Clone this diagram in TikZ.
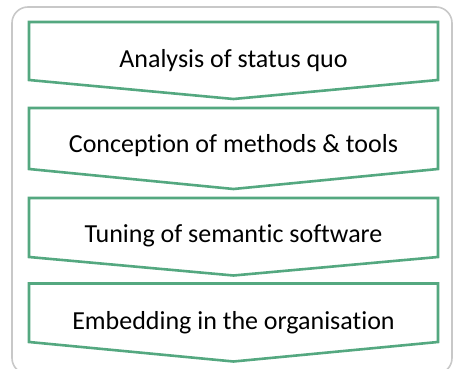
\documentclass[tikz,border=0pt]{standalone}
\usepackage{fontspec}
\setmainfont{Carlito}[Ligatures=NoCommon]
\definecolor{chevgreen}{RGB}{84,168,128}
\definecolor{framegray}{RGB}{200,200,200}
\begin{document}
\begin{tikzpicture}[x=1pt,y=-1pt,
  chev/.style={draw=chevgreen,line width=2.6pt,fill=white,line join=miter},
  lbl/.style={font=\fontsize{26}{30}\selectfont,text=black,inner sep=0pt},
  frame/.style={draw=framegray,line width=1.6pt,rounded corners=16pt}]
\useasboundingbox (0,0) rectangle (453,369);
\draw[frame] (12,7) rectangle (452,374);
% chevrons
\draw[chev] (29,22) -- (438,22) -- (438,80) -- (233.5,99) -- (29,80) -- cycle;
\draw[chev] (29,108) -- (438,108) -- (438,169) -- (233.5,189) -- (29,169) -- cycle;
\draw[chev] (29,198) -- (438,198) -- (438,257) -- (233.5,275.5) -- (29,257) -- cycle;
\draw[chev] (29,283.5) -- (438,283.5) -- (438,342) -- (233.5,361.5) -- (29,342) -- cycle;
\node[lbl] (s1) at (233.5,60.5) {Analysis of status quo};
\node[lbl] (s2) at (233.5,146) {Conception of methods \& tools};
\node[lbl] (s3) at (233.5,235.5) {Tuning of semantic software};
\node[lbl] (s4) at (233.5,322.5) {Embedding in the organisation};
\end{tikzpicture}
\end{document}
